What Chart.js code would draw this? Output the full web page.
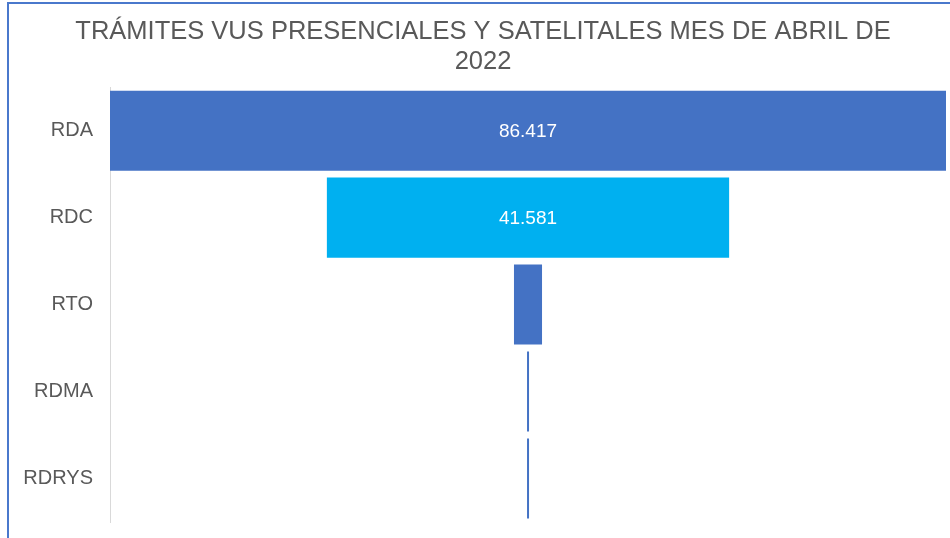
<!DOCTYPE html>
<html>
<head>
<meta charset="utf-8">
<script src="https://cdn.jsdelivr.net/npm/chart.js@4"></script>
<style>
  html, body { margin: 0; padding: 0; background: #fff; }
  #wrap { position: relative; width: 950px; height: 538px; }
  #frame { position: absolute; left: 7px; top: 2px; right: 0; bottom: 0;
           border-left: 2px solid #4a78cc; border-top: 2px solid #4a78cc; pointer-events: none; }
</style>
</head>
<body>
<div id="wrap">
  <canvas id="funnel" width="950" height="538"></canvas>
  <div id="frame"></div>
</div>
<script>
// datos del embudo
const regiones = ['RDA', 'RDC', 'RTO', 'RDMA', 'RDRYS'];
const tramites = [86417, 41581, 2900, 200, 200];
const colores = ['#4472C4', '#00B0F0', '#4472C4', '#4472C4', '#4472C4'];
const titulo = ['TRÁMITES VUS PRESENCIALES Y SATELITALES MES DE ABRIL DE', '2022'];

const maximo = Math.max(...tramites);

// formato con punto de miles
function formatear(n) {
    return String(n).replace(/\B(?=(\d{3})+(?!\d))/g, '.');
}

// etiquetas dentro de las barras anchas
const etiquetasPlugin = {
    id: 'etiquetas',
    afterDatasetsDraw(chart) {
        const ctx = chart.ctx;
        const meta = chart.getDatasetMeta(0);
        ctx.save();
        ctx.font = '19px "Liberation Sans", Arial, sans-serif';
        ctx.fillStyle = '#ffffff';
        ctx.textAlign = 'center';
        ctx.textBaseline = 'middle';
        meta.data.forEach((bar, i) => {
            const ancho = Math.abs(bar.x - bar.base);
            if (ancho > 80) {
                ctx.fillText(formatear(tramites[i]), (bar.x + bar.base) / 2, bar.y + 1);
            }
        });
        ctx.restore();
    }
};

const ctx = document.getElementById('funnel').getContext('2d');
new Chart(ctx, {
    type: 'bar',
    data: {
        labels: regiones,
        datasets: [{
            data: tramites.map(v => [-v / 2, v / 2]),
            backgroundColor: colores,
            borderWidth: 0,
            barPercentage: 0.92,
            categoryPercentage: 1,
            minBarLength: 2,
        }],
    },
    options: {
        indexAxis: 'y',
        responsive: false,
        animation: false,
        layout: { padding: { left: 20, right: 4, top: 0, bottom: 16 } },
        plugins: {
            legend: { display: false },
            tooltip: { enabled: false },
            title: {
                display: true,
                text: titulo,
                color: '#595959',
                font: { family: '"Liberation Sans", Arial, sans-serif', size: 25.5, weight: 'normal', lineHeight: 1.18 },
                padding: { top: 17, bottom: 10 },
            },
        },
        scales: {
            x: {
                display: false,
                min: -maximo / 2,
                max: maximo / 2,
            },
            y: {
                grid: { display: false },
                border: { color: '#d9d9d9', width: 1 },
                ticks: {
                    color: '#595959',
                    padding: 9,
                    font: { family: '"Liberation Sans", Arial, sans-serif', size: 20 },
                },
                afterFit(scale) {
                    scale.width = 90;
                    scale.paddingTop = 0;
                    scale.paddingBottom = 0;
                },
            },
        },
    },
    plugins: [etiquetasPlugin],
});
</script>
</body>
</html>
